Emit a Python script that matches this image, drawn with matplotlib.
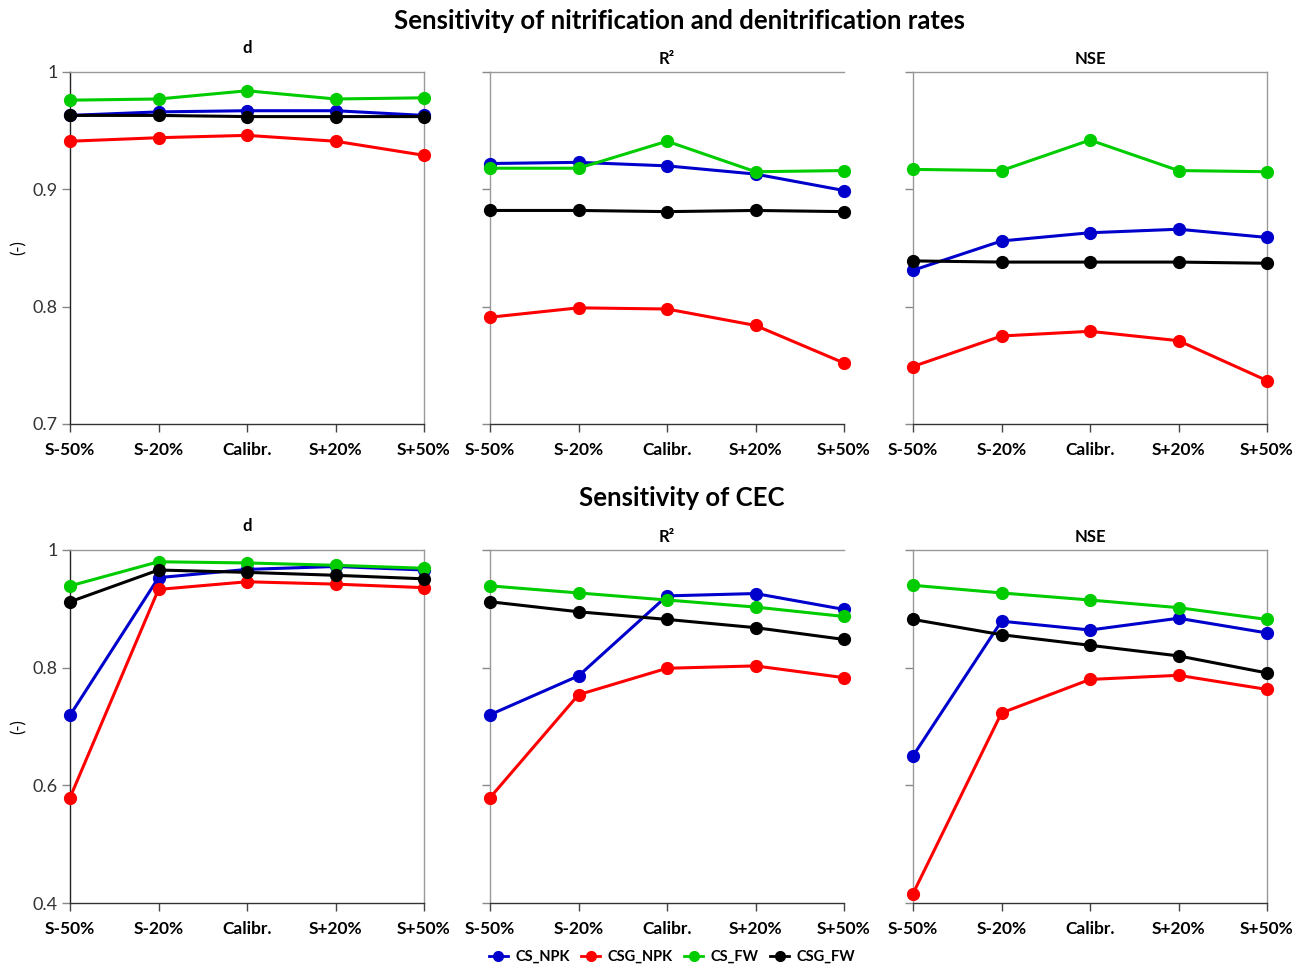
import numpy as np
import matplotlib.pyplot as plt

plt.rcParams['font.family'] = ['Lato', 'DejaVu Sans']

cats = ["S-50%", "S-20%", "Calibr.", "S+20%", "S+50%"]
series = ["CS_NPK", "CSG_NPK", "CS_FW", "CSG_FW"]
colors = ["#0000CC", "#FF0000", "#00CC00", "#000000"]

# nitrification / denitrification (top row)
nit_d = [[0.963, 0.966, 0.967, 0.967, 0.963],
         [0.941, 0.944, 0.946, 0.941, 0.929],
         [0.976, 0.977, 0.984, 0.977, 0.978],
         [0.963, 0.963, 0.962, 0.962, 0.962]]
nit_r2 = [[0.922, 0.923, 0.920, 0.913, 0.899],
          [0.791, 0.799, 0.798, 0.784, 0.752],
          [0.918, 0.918, 0.941, 0.915, 0.916],
          [0.882, 0.882, 0.881, 0.882, 0.881]]
nit_nse = [[0.831, 0.856, 0.863, 0.866, 0.859],
           [0.749, 0.775, 0.779, 0.771, 0.737],
           [0.917, 0.916, 0.942, 0.916, 0.915],
           [0.839, 0.838, 0.838, 0.838, 0.837]]

# CEC (bottom row)
cec_d = [[0.719, 0.953, 0.967, 0.972, 0.966],
         [0.579, 0.933, 0.946, 0.942, 0.936],
         [0.939, 0.980, 0.978, 0.974, 0.969],
         [0.912, 0.966, 0.962, 0.957, 0.951]]
cec_r2 = [[0.720, 0.786, 0.922, 0.926, 0.899],
          [0.579, 0.754, 0.799, 0.803, 0.783],
          [0.939, 0.927, 0.915, 0.903, 0.887],
          [0.912, 0.895, 0.882, 0.868, 0.848]]
cec_nse = [[0.650, 0.879, 0.864, 0.884, 0.859],
           [0.416, 0.723, 0.780, 0.787, 0.763],
           [0.940, 0.927, 0.915, 0.902, 0.882],
           [0.882, 0.856, 0.838, 0.820, 0.791]]

W, H = 1304, 968
fig = plt.figure(figsize=(W / 100, H / 100), dpi=100)

lefts = [70, 490, 913]
width = 354
rows = [(72, 424, (0.7, 1.0), [0.7, 0.8, 0.9, 1.0], ["0.7", "0.8", "0.9", "1"],
         [nit_d, nit_r2, nit_nse]),
        (550, 903, (0.4, 1.0), [0.4, 0.6, 0.8, 1.0], ["0.4", "0.6", "0.8", "1"],
         [cec_d, cec_r2, cec_nse])]
titles = ["d", "R²", "NSE"]
title_pads = [14, 6, 6]

x = np.arange(len(cats))
for top, bot, ylim, yt, ytl, datas in rows:
    for j, (lft, data) in enumerate(zip(lefts, datas)):
        ax = fig.add_axes([lft / W, 1 - bot / H, width / W, (bot - top) / H])
        for vals, c, name in zip(data, colors, series):
            ax.plot(x, vals, color=c, lw=2.2, marker='o', ms=8.5, label=name,
                    clip_on=False, zorder=3)
        ax.set_xlim(0, 4)
        ax.set_ylim(*ylim)
        ax.set_xticks(x)
        ax.set_xticklabels(cats, fontsize=12.5, fontweight='bold')
        ax.set_yticks(yt)
        ax.tick_params(axis='x', length=6, width=1, color='#444444', pad=7)
        ax.tick_params(axis='y', length=6, width=1, color='#888888', pad=3)
        if j == 0:
            ax.set_yticklabels(ytl, fontsize=13, color='#333333')
            ax.set_ylabel("(-)", fontsize=12, labelpad=4)
            ax.spines['left'].set_color('#222222')
        else:
            ax.set_yticklabels([])
            ax.spines['left'].set_color('#999999')
        ax.spines['bottom'].set_color('#333333')
        ax.spines['top'].set_color('#999999')
        ax.spines['right'].set_color('#999999')
        ax.spines['right'].set_visible(j != 1)
        ax.set_title(titles[j], fontsize=12, fontweight='bold', pad=title_pads[j])
        for s in ax.spines.values():
            s.set_linewidth(1)

fig.text(680 / W, 1 - 21 / H, "Sensitivity of nitrification and denitrification rates",
         ha='center', va='center', fontsize=18.5, fontweight='bold')
fig.text(682 / W, 1 - 498 / H, "Sensitivity of CEC",
         ha='center', va='center', fontsize=18.5, fontweight='bold')

handles, labels = fig.axes[0].get_legend_handles_labels()
leg = fig.legend(handles, labels, loc='center', bbox_to_anchor=(672 / W, 1 - 957 / H),
                 ncol=4, frameon=False, handlelength=1.3, columnspacing=0.8,
                 handletextpad=0.5, prop={'weight': 'bold', 'size': 10.5})
for h in leg.legend_handles:
    h.set_markersize(7)
    h.set_linewidth(2)

fig.savefig("out.png", dpi=100)
